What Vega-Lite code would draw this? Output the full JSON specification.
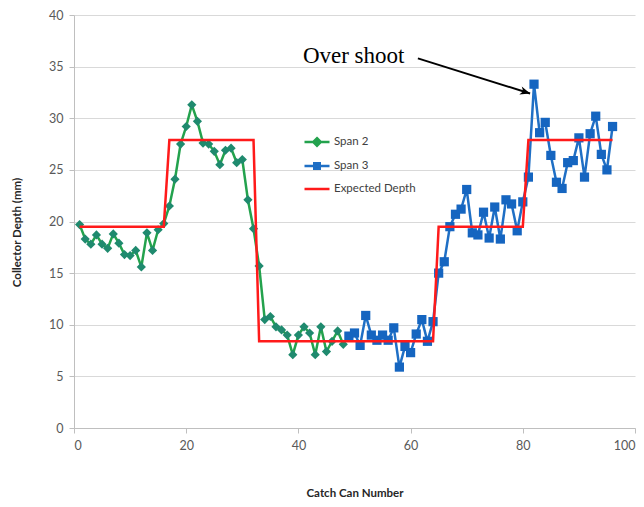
{
  "$schema": "https://vega.github.io/schema/vega-lite/v6.json",
  "autosize": {"type": "none"},
  "padding": {"left": 74, "top": 15, "right": 9, "bottom": 79},
  "width": 561,
  "height": 413,
  "background": "white",
  "config": {
    "view": {"stroke": null},
    "font": "Lato",
    "axis": {
      "labelFont": "Lato",
      "labelFontSize": 12.5,
      "labelColor": "#595959",
      "titleFont": "Lato",
      "titleFontSize": 11.5,
      "titleFontWeight": "bold",
      "titleColor": "#262626",
      "domainColor": "#bfbfbf",
      "tickColor": "#bfbfbf",
      "gridColor": "#d9d9d9",
      "gridWidth": 1.2
    }
  },
  "datasets": {
    "spans": [
      {"can": 1, "depth": 19.7, "series": "Span 2"},
      {"can": 2, "depth": 18.3, "series": "Span 2"},
      {"can": 3, "depth": 17.8, "series": "Span 2"},
      {"can": 4, "depth": 18.7, "series": "Span 2"},
      {"can": 5, "depth": 17.8, "series": "Span 2"},
      {"can": 6, "depth": 17.4, "series": "Span 2"},
      {"can": 7, "depth": 18.8, "series": "Span 2"},
      {"can": 8, "depth": 17.9, "series": "Span 2"},
      {"can": 9, "depth": 16.8, "series": "Span 2"},
      {"can": 10, "depth": 16.7, "series": "Span 2"},
      {"can": 11, "depth": 17.2, "series": "Span 2"},
      {"can": 12, "depth": 15.6, "series": "Span 2"},
      {"can": 13, "depth": 18.9, "series": "Span 2"},
      {"can": 14, "depth": 17.2, "series": "Span 2"},
      {"can": 15, "depth": 19.2, "series": "Span 2"},
      {"can": 16, "depth": 19.8, "series": "Span 2"},
      {"can": 17, "depth": 21.5, "series": "Span 2"},
      {"can": 18, "depth": 24.1, "series": "Span 2"},
      {"can": 19, "depth": 27.5, "series": "Span 2"},
      {"can": 20, "depth": 29.2, "series": "Span 2"},
      {"can": 21, "depth": 31.3, "series": "Span 2"},
      {"can": 22, "depth": 29.7, "series": "Span 2"},
      {"can": 23, "depth": 27.6, "series": "Span 2"},
      {"can": 24, "depth": 27.5, "series": "Span 2"},
      {"can": 25, "depth": 26.8, "series": "Span 2"},
      {"can": 26, "depth": 25.5, "series": "Span 2"},
      {"can": 27, "depth": 26.9, "series": "Span 2"},
      {"can": 28, "depth": 27.1, "series": "Span 2"},
      {"can": 29, "depth": 25.7, "series": "Span 2"},
      {"can": 30, "depth": 26.0, "series": "Span 2"},
      {"can": 31, "depth": 22.1, "series": "Span 2"},
      {"can": 32, "depth": 19.3, "series": "Span 2"},
      {"can": 33, "depth": 15.7, "series": "Span 2"},
      {"can": 34, "depth": 10.5, "series": "Span 2"},
      {"can": 35, "depth": 10.8, "series": "Span 2"},
      {"can": 36, "depth": 9.8, "series": "Span 2"},
      {"can": 37, "depth": 9.5, "series": "Span 2"},
      {"can": 38, "depth": 9.0, "series": "Span 2"},
      {"can": 39, "depth": 7.1, "series": "Span 2"},
      {"can": 40, "depth": 9.0, "series": "Span 2"},
      {"can": 41, "depth": 9.8, "series": "Span 2"},
      {"can": 42, "depth": 9.2, "series": "Span 2"},
      {"can": 43, "depth": 7.1, "series": "Span 2"},
      {"can": 44, "depth": 9.8, "series": "Span 2"},
      {"can": 45, "depth": 7.4, "series": "Span 2"},
      {"can": 46, "depth": 8.4, "series": "Span 2"},
      {"can": 47, "depth": 9.4, "series": "Span 2"},
      {"can": 48, "depth": 8.1, "series": "Span 2"},
      {"can": 49, "depth": 8.9, "series": "Span 3"},
      {"can": 50, "depth": 9.2, "series": "Span 3"},
      {"can": 51, "depth": 8.0, "series": "Span 3"},
      {"can": 52, "depth": 10.9, "series": "Span 3"},
      {"can": 53, "depth": 9.0, "series": "Span 3"},
      {"can": 54, "depth": 8.5, "series": "Span 3"},
      {"can": 55, "depth": 9.0, "series": "Span 3"},
      {"can": 56, "depth": 8.5, "series": "Span 3"},
      {"can": 57, "depth": 9.7, "series": "Span 3"},
      {"can": 58, "depth": 5.9, "series": "Span 3"},
      {"can": 59, "depth": 7.9, "series": "Span 3"},
      {"can": 60, "depth": 7.3, "series": "Span 3"},
      {"can": 61, "depth": 9.1, "series": "Span 3"},
      {"can": 62, "depth": 10.5, "series": "Span 3"},
      {"can": 63, "depth": 8.4, "series": "Span 3"},
      {"can": 64, "depth": 10.3, "series": "Span 3"},
      {"can": 65, "depth": 15.0, "series": "Span 3"},
      {"can": 66, "depth": 16.1, "series": "Span 3"},
      {"can": 67, "depth": 19.5, "series": "Span 3"},
      {"can": 68, "depth": 20.7, "series": "Span 3"},
      {"can": 69, "depth": 21.2, "series": "Span 3"},
      {"can": 70, "depth": 23.1, "series": "Span 3"},
      {"can": 71, "depth": 18.9, "series": "Span 3"},
      {"can": 72, "depth": 18.7, "series": "Span 3"},
      {"can": 73, "depth": 20.9, "series": "Span 3"},
      {"can": 74, "depth": 18.4, "series": "Span 3"},
      {"can": 75, "depth": 21.4, "series": "Span 3"},
      {"can": 76, "depth": 18.3, "series": "Span 3"},
      {"can": 77, "depth": 22.1, "series": "Span 3"},
      {"can": 78, "depth": 21.7, "series": "Span 3"},
      {"can": 79, "depth": 19.1, "series": "Span 3"},
      {"can": 80, "depth": 21.9, "series": "Span 3"},
      {"can": 81, "depth": 24.3, "series": "Span 3"},
      {"can": 82, "depth": 33.3, "series": "Span 3"},
      {"can": 83, "depth": 28.6, "series": "Span 3"},
      {"can": 84, "depth": 29.6, "series": "Span 3"},
      {"can": 85, "depth": 26.4, "series": "Span 3"},
      {"can": 86, "depth": 23.8, "series": "Span 3"},
      {"can": 87, "depth": 23.2, "series": "Span 3"},
      {"can": 88, "depth": 25.7, "series": "Span 3"},
      {"can": 89, "depth": 25.9, "series": "Span 3"},
      {"can": 90, "depth": 28.1, "series": "Span 3"},
      {"can": 91, "depth": 24.3, "series": "Span 3"},
      {"can": 92, "depth": 28.5, "series": "Span 3"},
      {"can": 93, "depth": 30.2, "series": "Span 3"},
      {"can": 94, "depth": 26.5, "series": "Span 3"},
      {"can": 95, "depth": 25.0, "series": "Span 3"},
      {"can": 96, "depth": 29.2, "series": "Span 3"}
    ],
    "expected": [
      {"can": 1, "depth": 19.5, "series": "Expected Depth"},
      {"can": 16, "depth": 19.5, "series": "Expected Depth"},
      {"can": 17, "depth": 27.9, "series": "Expected Depth"},
      {"can": 32, "depth": 27.9, "series": "Expected Depth"},
      {"can": 33, "depth": 8.4, "series": "Expected Depth"},
      {"can": 64, "depth": 8.4, "series": "Expected Depth"},
      {"can": 65, "depth": 19.5, "series": "Expected Depth"},
      {"can": 80, "depth": 19.5, "series": "Expected Depth"},
      {"can": 81, "depth": 27.9, "series": "Expected Depth"},
      {"can": 96, "depth": 27.9, "series": "Expected Depth"}
    ],
    "note": [
      {"label": "Over shoot", "tx": 40.8, "ty": 36.0, "x1": 61.3, "y1": 35.8, "x2": 81.3, "y2": 32.4}
    ]
  },
  "encoding": {
    "x": {
      "field": "can",
      "type": "quantitative",
      "title": "Catch Can Number",
      "scale": {"domain": [0, 100], "nice": false},
      "axis": {
        "values": [0, 20, 40, 60, 80, 100],
        "grid": false,
        "tickSize": 5,
        "labelPadding": 6,
        "titleX": 280.5,
        "titleY": 65,
        "titleBaseline": "middle",
        "titleAlign": "center"
      }
    },
    "y": {
      "field": "depth",
      "type": "quantitative",
      "title": "Collector Depth (mm)",
      "scale": {"domain": [0, 40], "nice": false},
      "axis": {
        "values": [0, 5, 10, 15, 20, 25, 30, 35, 40],
        "tickSize": 5,
        "labelPadding": 6,
        "titleX": -57,
        "titleY": 217,
        "titleAngle": -90,
        "titleBaseline": "middle",
        "titleAlign": "center"
      }
    }
  },
  "layer": [
    {
      "data": {"name": "spans"},
      "mark": {"type": "line", "strokeWidth": 2.5},
      "encoding": {
        "color": {
          "field": "series",
          "type": "nominal",
          "scale": {
            "domain": ["Span 2", "Span 3", "Expected Depth"],
            "range": ["#23a24d", "#1f6fc5", "#ff1a1a"]
          },
          "legend": {
            "orient": "none",
            "legendX": 229,
            "legendY": 113,
            "title": null,
            "padding": 0,
            "symbolSize": 625,
            "symbolStrokeWidth": 2.5,
            "labelFont": "Lato",
            "labelFontSize": 11.5,
            "labelColor": "#404040",
            "labelOffset": 3,
            "rowPadding": 1,
            "encode": {
              "symbols": {
                "update": {
                  "shape": {"signal": "datum.value === 'Span 2' ? 'M -1 0 L 1 0 M 0 -0.3 L 0.3 0 L 0 0.3 L -0.3 0 Z' : datum.value === 'Span 3' ? 'M -1 0 L 1 0 M -0.22 -0.22 L 0.22 -0.22 L 0.22 0.22 L -0.22 0.22 Z' : 'M -1 0 L 1 0'"},
                  "fill": {"signal": "datum.value === 'Span 2' ? '#1f8a6e' : datum.value === 'Span 3' ? '#1565c0' : 'transparent'"}
                }
              }
            }
          }
        }
      }
    },
    {
      "data": {"name": "spans"},
      "mark": {"type": "point", "filled": true, "size": 85, "opacity": 1},
      "encoding": {
        "shape": {
          "field": "series",
          "type": "nominal",
          "scale": {"domain": ["Span 2", "Span 3"], "range": ["diamond", "square"]},
          "legend": null
        },
        "fill": {
          "field": "series",
          "type": "nominal",
          "scale": {"domain": ["Span 2", "Span 3"], "range": ["#1f8a6e", "#1565c0"]},
          "legend": null
        }
      }
    },
    {
      "data": {"name": "expected"},
      "mark": {"type": "line", "strokeWidth": 2.5},
      "encoding": {
        "color": {"field": "series", "type": "nominal"}
      }
    },
    {
      "data": {"name": "note"},
      "mark": {"type": "rule", "color": "black", "strokeWidth": 2},
      "encoding": {
        "x": {"field": "x1", "type": "quantitative"},
        "y": {"field": "y1", "type": "quantitative"},
        "x2": {"field": "x2"},
        "y2": {"field": "y2"}
      }
    },
    {
      "data": {"name": "note"},
      "mark": {
        "type": "point",
        "shape": "M 0 0 L -1 -0.42 L -0.72 0 L -1 0.42 Z",
        "filled": true,
        "color": "black",
        "opacity": 1,
        "size": 400,
        "angle": 17
      },
      "encoding": {
        "x": {"field": "x2", "type": "quantitative"},
        "y": {"field": "y2", "type": "quantitative"}
      }
    },
    {
      "data": {"name": "note"},
      "mark": {
        "type": "text",
        "font": "Liberation Serif",
        "fontSize": 23,
        "align": "left",
        "baseline": "middle",
        "color": "black"
      },
      "encoding": {
        "x": {"field": "tx", "type": "quantitative"},
        "y": {"field": "ty", "type": "quantitative"},
        "text": {"field": "label"}
      }
    }
  ]
}
